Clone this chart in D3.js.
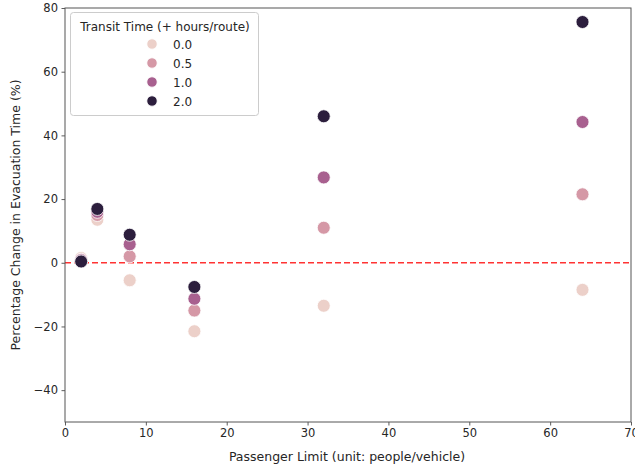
<!DOCTYPE html>
<html><head><meta charset="utf-8">
<script src="https://cdn.jsdelivr.net/npm/d3@7"></script>
<style>body{margin:0;background:#fff}svg{display:block}text{font-family:"DejaVu Sans",sans-serif}</style>
</head><body><svg id="c" width="635" height="472"></svg>
<script>
const passengerLimits = [2, 4, 8, 16, 32, 64];
const transitTimes = [0.0, 0.5, 1.0, 2.0];
const transitLabels = ["0.0", "0.5", "1.0", "2.0"];
const change_0_0 = [1.5, 13.5, -5.5, -21.5, -13.5, -8.5];
const change_0_5 = [1.0, 15.0, 2.0, -15.0, 11.0, 21.5];
const change_1_0 = [0.8, 16.0, 5.8, -11.3, 26.8, 44.2];
const change_2_0 = [0.4, 16.9, 8.8, -7.6, 46.0, 75.6];
const seriesValues = [change_0_0, change_0_5, change_1_0, change_2_0];
const xTicks = [0, 10, 20, 30, 40, 50, 60, 70];
const yTicks = [-40, -20, 0, 20, 40, 60, 80];
const colors = ["#ecd0c9", "#d598a6", "#a8608f", "#2c1e3d"];

const svg = d3.select("#c");
const L = 65, R = 631, T = 8, B = 422;
const x = d3.scaleLinear().domain([0, 70]).range([L, R]);
const y = d3.scaleLinear().domain([-50, 80]).range([B, T]);

const xAxis = svg.append("g").attr("transform", `translate(0,${B})`)
  .call(d3.axisBottom(x).tickValues(xTicks).tickSize(3.5).tickPadding(3.5).tickFormat(d3.format("d")));
const yAxis = svg.append("g").attr("transform", `translate(${L},0)`)
  .call(d3.axisLeft(y).tickValues(yTicks).tickSize(3.5).tickPadding(3.5).tickFormat(d => d < 0 ? "\u2212" + Math.abs(d) : d));
[xAxis, yAxis].forEach(a => {
  a.select(".domain").remove();
  a.selectAll("line").attr("stroke", "#333").attr("stroke-width", 0.8);
  a.selectAll("text").attr("font-size", 11.5).attr("fill", "#262626");
});

// zero line
svg.append("line").attr("x1", L).attr("x2", R).attr("y1", y(0)).attr("y2", y(0))
  .attr("stroke", "#f33").attr("stroke-width", 1.6).attr("stroke-dasharray", "6,3");

// points
transitTimes.forEach((t, i) => {
  svg.append("g").selectAll("circle").data(passengerLimits).join("circle")
    .attr("cx", d => x(d)).attr("cy", (d, j) => y(seriesValues[i][j]))
    .attr("r", 6.5).attr("fill", colors[i]).attr("stroke", "#fff").attr("stroke-width", 0.8);
});

// frame
svg.append("rect").attr("x", L).attr("y", T).attr("width", R - L).attr("height", B - T)
  .attr("fill", "none").attr("stroke", "#555").attr("stroke-width", 1);

// axis labels
svg.append("text").attr("x", (L + R) / 2 - 1).attr("y", 461).attr("text-anchor", "middle")
  .attr("font-size", 12.5).attr("fill", "#262626").text("Passenger Limit (unit: people/vehicle)");
svg.append("text").attr("transform", `translate(20,${(T + B) / 2}) rotate(-90)`).attr("text-anchor", "middle")
  .attr("font-size", 12.5).attr("fill", "#262626").text("Percentage Change in Evacuation Time (%)");

// legend
const lg = svg.append("g");
lg.append("rect").attr("x", 70.5).attr("y", 12.5).attr("width", 188).attr("height", 103).attr("rx", 3)
  .attr("fill", "#fff").attr("fill-opacity", 0.8).attr("stroke", "#ccc").attr("stroke-width", 1);
lg.append("text").attr("x", 165).attr("y", 31).attr("text-anchor", "middle").attr("font-size", 12)
  .attr("fill", "#262626").text("Transit Time (+ hours/route)");
transitLabels.forEach((lab, i) => {
  const yy = 44 + i * 19;
  lg.append("circle").attr("cx", 152).attr("cy", yy).attr("r", 5.2).attr("fill", colors[i]).attr("stroke", "#fff").attr("stroke-width", 0.8);
  lg.append("text").attr("x", 173).attr("y", yy + 4.5).attr("font-size", 12).attr("fill", "#262626").text(lab);
});
</script></body></html>
